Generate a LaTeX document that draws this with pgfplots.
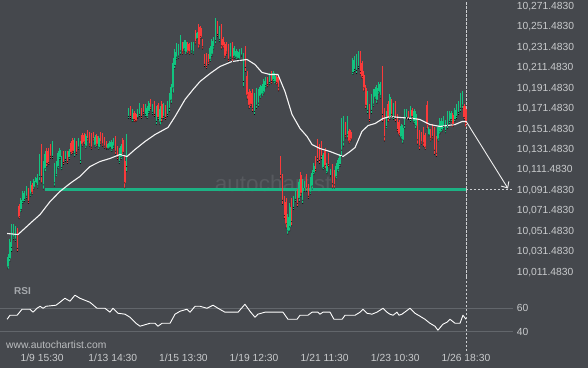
\documentclass[border=0pt]{standalone}
\usepackage{fontspec}
\setmainfont{Liberation Sans}
\usepackage{pgfplots}
\pgfplotsset{compat=1.18}
\usepackage{pgfplotstable}
\usetikzlibrary{arrows.meta}
\definecolor{bg}{RGB}{69,72,77}
\definecolor{cup}{RGB}{18,196,128}
\definecolor{cdn}{RGB}{250,58,58}
\definecolor{sup}{RGB}{28,178,132}
\definecolor{lab}{RGB}{200,202,204}
\definecolor{rsilab}{RGB}{165,168,172}
\definecolor{gridc}{RGB}{98,102,107}
\definecolor{wm}{RGB}{86,89,94}
\definecolor{dashc}{RGB}{205,207,210}

\pgfplotstableread{
i o h l c
0 10016 10028 10014 10026
1 10024 10043 10021 10040
2 10035 10058 10031 10054
3 10045 10058 10043 10056
4 10043 10056 10041 10054
7 10072 10083 10070 10081
8 10080 10090 10078 10088
9 10082 10090 10080 10088
10 10085 10095 10083 10093
12 10087 10100 10085 10098
14 10094 10102 10092 10100
15 10098 10104 10097 10103
16 10095 10107 10093 10105
17 10104 10126 10100 10122
19 10096 10119 10092 10115
20 10112 10129 10109 10126
24 10124 10139 10122 10137
25 10098 10117 10095 10114
26 10106 10119 10104 10117
27 10114 10129 10112 10127
28 10123 10132 10121 10130
29 10113 10124 10111 10122
31 10121 10129 10119 10127
33 10123 10131 10121 10129
36 10127 10142 10124 10139
38 10133 10142 10131 10140
39 10120 10139 10117 10136
42 10134 10146 10132 10144
47 10135 10145 10133 10143
49 10133 10144 10131 10142
54 10132 10137 10131 10136
55 10133 10139 10132 10138
56 10131 10140 10129 10138
57 10134 10142 10132 10140
60 10119 10132 10117 10130
61 10123 10136 10121 10134
64 10114 10146 10109 10141
65 10163 10171 10161 10169
67 10160 10170 10158 10168
70 10162 10170 10161 10168
71 10165 10176 10163 10174
74 10165 10175 10163 10173
75 10163 10173 10161 10171
76 10168 10178 10166 10176
78 10167 10175 10165 10173
80 10158 10173 10155 10170
82 10158 10173 10155 10170
84 10163 10176 10161 10174
86 10165 10178 10163 10176
87 10171 10186 10168 10183
88 10179 10195 10176 10192
89 10191 10220 10186 10215
90 10213 10229 10210 10226
91 10221 10235 10219 10233
92 10222 10234 10220 10232
93 10227 10243 10224 10240
95 10229 10238 10227 10236
96 10226 10238 10224 10236
99 10227 10236 10225 10234
100 10226 10236 10224 10234
102 10239 10246 10238 10245
109 10219 10232 10217 10230
110 10224 10239 10222 10237
111 10231 10241 10229 10239
112 10237 10259 10234 10256
114 10238 10251 10236 10249
120 10221 10235 10219 10233
122 10222 10232 10220 10230
123 10221 10229 10219 10227
124 10220 10227 10219 10226
125 10219 10229 10217 10227
126 10223 10230 10222 10229
127 10197 10225 10192 10220
133 10168 10186 10165 10183
134 10174 10191 10171 10188
135 10176 10190 10173 10187
136 10183 10194 10181 10192
137 10185 10195 10183 10193
138 10187 10200 10185 10198
139 10193 10202 10191 10200
141 10196 10205 10194 10203
143 10199 10207 10197 10205
144 10197 10205 10195 10203
151 10051 10068 10048 10065
152 10055 10078 10051 10074
154 10074 10085 10072 10083
155 10082 10090 10080 10088
157 10083 10102 10080 10099
159 10081 10102 10078 10099
160 10092 10100 10090 10098
163 10089 10104 10087 10102
164 10095 10111 10092 10108
165 10108 10117 10106 10115
170 10113 10127 10111 10125
172 10109 10117 10107 10115
174 10105 10112 10104 10111
177 10104 10117 10102 10115
178 10111 10122 10109 10120
179 10116 10126 10114 10124
180 10130 10161 10124 10155
181 10138 10163 10134 10159
183 10145 10163 10142 10160
186 10206 10220 10204 10218
187 10209 10222 10207 10220
188 10208 10224 10205 10221
189 10212 10227 10210 10225
194 10169 10188 10166 10185
196 10169 10185 10166 10182
197 10175 10190 10173 10188
198 10182 10192 10180 10190
199 10179 10194 10176 10191
200 10187 10197 10185 10195
201 10183 10197 10181 10195
204 10153 10168 10151 10166
206 10163 10185 10160 10182
208 10162 10176 10160 10174
212 10143 10156 10141 10154
213 10140 10155 10137 10152
214 10154 10170 10151 10167
215 10162 10170 10161 10169
217 10160 10173 10158 10171
219 10158 10170 10156 10168
220 10154 10168 10151 10165
227 10145 10153 10144 10151
232 10141 10155 10139 10153
233 10148 10161 10146 10159
234 10150 10161 10148 10159
235 10153 10163 10151 10161
236 10149 10160 10147 10158
237 10154 10168 10151 10165
238 10158 10168 10156 10166
239 10160 10168 10158 10166
241 10160 10171 10158 10169
242 10163 10175 10161 10173
243 10167 10178 10165 10176
244 10171 10186 10168 10183
245 10174 10188 10171 10185
}\upc

\pgfplotstableread{
i o h l c
5 10051 10054 10031 10034
6 10075 10077 10063 10065
11 10091 10093 10078 10080
13 10096 10098 10087 10089
18 10131 10136 10098 10104
21 10129 10132 10114 10117
22 10130 10132 10116 10118
23 10134 10136 10122 10124
30 10127 10129 10116 10118
32 10127 10129 10117 10119
34 10137 10139 10126 10128
35 10140 10142 10127 10129
37 10137 10139 10126 10128
40 10145 10147 10134 10136
41 10145 10147 10136 10138
43 10148 10150 10139 10141
44 10146 10148 10134 10136
45 10145 10147 10131 10133
46 10146 10148 10139 10141
48 10144 10146 10134 10136
50 10146 10148 10136 10138
51 10145 10147 10134 10136
52 10141 10143 10132 10134
53 10138 10139 10131 10132
58 10141 10144 10126 10129
59 10132 10134 10121 10123
62 10140 10142 10126 10128
63 10119 10124 10093 10098
66 10171 10173 10161 10163
68 10166 10168 10158 10160
69 10165 10166 10158 10159
72 10169 10171 10161 10163
73 10173 10175 10165 10167
77 10178 10180 10170 10172
79 10176 10178 10163 10165
81 10174 10176 10160 10162
83 10175 10178 10158 10161
85 10172 10174 10160 10162
94 10234 10236 10224 10226
97 10234 10236 10225 10227
98 10233 10235 10224 10226
101 10246 10248 10234 10236
103 10250 10253 10230 10233
104 10249 10251 10239 10241
105 10237 10239 10229 10231
106 10222 10224 10212 10214
107 10223 10225 10210 10212
108 10222 10224 10214 10216
113 10254 10256 10241 10243
115 10250 10253 10229 10232
116 10239 10241 10230 10232
117 10234 10236 10220 10222
118 10234 10236 10224 10226
119 10232 10234 10217 10219
121 10233 10236 10217 10220
128 10228 10232 10207 10211
129 10203 10207 10180 10184
130 10187 10190 10171 10174
131 10186 10188 10173 10175
132 10187 10190 10168 10171
140 10200 10202 10192 10194
142 10205 10207 10195 10197
145 10202 10204 10194 10196
146 10201 10204 10188 10191
147 10121 10124 10102 10105
148 10103 10107 10077 10081
149 10082 10085 10063 10066
150 10079 10083 10054 10058
153 10079 10083 10056 10060
156 10090 10092 10075 10078
158 10106 10109 10085 10088
161 10105 10107 10090 10093
162 10095 10097 10083 10085
166 10122 10124 10109 10111
167 10138 10141 10119 10122
168 10133 10136 10117 10120
169 10136 10139 10121 10124
171 10129 10132 10112 10115
173 10125 10127 10114 10116
175 10112 10116 10093 10097
176 10108 10111 10093 10096
182 10156 10158 10142 10144
184 10149 10151 10137 10139
185 10148 10150 10139 10141
190 10224 10227 10204 10207
191 10215 10217 10200 10202
192 10204 10207 10188 10191
193 10191 10194 10171 10174
195 10173 10175 10158 10160
202 10205 10212 10158 10165
203 10167 10171 10139 10143
205 10175 10178 10158 10161
207 10178 10180 10163 10165
209 10175 10178 10158 10161
210 10163 10165 10148 10150
211 10158 10160 10144 10146
216 10167 10168 10160 10161
218 10169 10171 10161 10163
221 10157 10161 10136 10140
222 10147 10150 10131 10134
223 10146 10148 10136 10138
224 10150 10153 10134 10137
225 10145 10147 10131 10133
226 10174 10178 10151 10155
228 10149 10151 10139 10141
229 10154 10156 10141 10143
230 10149 10153 10126 10130
231 10141 10144 10124 10127
240 10164 10166 10153 10155
246 10173 10175 10160 10162
247 10170 10173 10153 10156
}\dnc

\pgfplotstableread{
x y
-0.5 10048.5
5.4 10047.5
11.9 10058.3
17.3 10067.1
22.7 10079.8
28.0 10089.6
33.4 10097.4
38.8 10104.3
44.2 10114.0
49.6 10118.9
55.0 10121.9
60.4 10125.8
64.2 10123.8
68.5 10130.7
73.9 10138.5
79.3 10145.3
86.3 10152.2
90.1 10162.9
95.5 10179.6
99.8 10189.3
103.6 10197.2
109.0 10205.0
114.3 10211.8
120.8 10216.7
128.9 10218.7
133.2 10213.8
137.0 10206.0
141.3 10204.0
145.6 10204.0
149.4 10187.4
153.2 10164.9
157.5 10151.2
161.3 10143.4
164.0 10135.5
168.3 10131.6
173.7 10128.7
180.7 10123.8
184.5 10128.7
187.2 10132.6
190.9 10148.3
194.2 10154.1
198.0 10156.1
202.3 10161.0
206.0 10162.9
211.4 10162.0
218.4 10161.0
222.2 10160.0
227.6 10155.1
233.0 10153.2
241.1 10155.1
244.9 10158.0
247 10158.0
}\ma

\pgfplotstableread{
x y
-0.5 50.4
1.1 53.8
4.9 53.8
7.6 58.9
11.9 58.9
13.5 56.4
15.6 59.7
17.3 61.4
18.9 59.7
20.5 61.4
25.9 62.3
28.0 64.8
30.7 68.2
33.4 65.7
36.1 70.8
38.8 68.2
41.5 66.5
44.2 64.8
48.0 59.7
52.3 59.7
55.0 56.4
56.6 59.7
59.3 55.5
63.1 54.7
65.8 52.1
69.0 47.0
71.2 44.5
76.6 47.0
79.3 47.0
80.9 44.5
83.1 47.0
87.4 47.0
90.1 54.7
92.8 57.2
96.5 58.9
98.2 56.4
100.9 61.4
103.6 61.4
107.3 59.7
110.6 62.3
113.3 59.7
117.0 56.4
124.1 56.4
127.8 63.1
130.5 57.2
133.2 52.1
134.8 54.7
138.6 56.4
148.3 56.4
151.0 50.4
155.9 50.4
157.5 53.8
161.8 53.8
164.0 56.4
167.2 56.4
168.3 54.7
169.9 56.4
173.7 56.4
175.8 50.4
180.2 50.4
181.8 53.8
187.2 53.8
189.9 56.4
191.5 58.9
193.6 55.5
196.3 54.7
199.0 56.4
202.3 59.7
204.4 56.4
206.0 54.7
207.7 53.8
209.8 56.4
210.9 53.8
212.5 54.7
216.8 59.7
219.5 55.5
222.2 53.0
224.9 50.4
227.6 47.0
230.3 44.5
231.9 41.1
234.6 46.2
236.8 47.9
238.4 50.4
241.1 47.0
243.8 47.0
245.4 53.8
247 50.4
}\rsi

\pgfplotsset{
  candle/.style n args={2}{only marks, mark=*, mark size=0.2pt,
    mark options={draw=none, fill=none},
    error bars/.cd, y dir=plus, y explicit, error mark=none,
    error bar style={line width=#2, draw=#1, line cap=butt}},
  labfont/.style={font=\fontsize{10.3}{12}\selectfont, text=lab},
  panel/.style={scale only axis, width=513pt, xmin=-4.32, xmax=272.39,
    axis line style={draw=none}, major tick length=0pt},
}

\begin{document}
\begin{tikzpicture}[x=1pt,y=1pt]
\fill[bg] (0,0) rectangle (588,368);

\begin{axis}[panel, at={(0pt,91.5pt)}, anchor=south west, height=275pt,
  ymin=10006.45, ymax=10275.4, xtick=\empty,
  ytick={10011.483,10031.483,10051.483,10071.483,10091.483,10111.483,10131.483,10151.483,10171.483,10191.483,10211.483,10231.483,10251.483,10271.483},
  yticklabels={{10,011.4830},{10,031.4830},{10,051.4830},{10,071.4830},{10,091.4830},{10,111.4830},{10,131.4830},{10,151.4830},{10,171.4830},{10,191.4830},{10,211.4830},{10,231.4830},{10,251.4830},{10,271.4830}},
  yticklabel pos=right,
  yticklabel style={labfont, anchor=base west, inner sep=0pt, xshift=3.6pt, yshift=-3.8pt},
  clip=false]
\node[text=wm, anchor=base, font=\fontsize{22.5}{24}\selectfont] at (axis cs:143,10089.6) {autochartist};
\addplot[sup, line width=2.4pt] coordinates {(20,10091.483) (247,10091.483)};
\addplot[dashc, line width=0.6pt, dash pattern=on 2.5pt off 1.5pt] coordinates {(247,10091.483) (272.39,10091.483)};
\addplot[dashc, line width=0.6pt, dash pattern=on 2.5pt off 1.5pt] coordinates {(247,10006.45) (247,10275.4)};
\addplot[candle={cup}{1.0pt}] table[x=i, y=l, y error expr=\thisrow{h}-\thisrow{l}] {\upc};
\addplot[candle={cup}{1.4pt}] table[x=i, y=o, y error expr=\thisrow{c}-\thisrow{o}] {\upc};
\addplot[candle={cdn}{1.0pt}] table[x=i, y=l, y error expr=\thisrow{h}-\thisrow{l}] {\dnc};
\addplot[candle={cdn}{1.4pt}] table[x=i, y=c, y error expr=\thisrow{o}-\thisrow{c}] {\dnc};
\addplot[white!92!gray, line width=1.1pt, line join=round] table[x=x, y=y] {\ma};
\addplot[white!88!gray, line width=0.9pt, -{Straight Barb[length=5pt, width=9pt]}] coordinates {(247,10158.5) (269.7,10092.5)};
\end{axis}

\begin{axis}[panel, at={(0pt,16.8pt)}, anchor=south west, height=75pt,
  ymin=23.3, ymax=86.9, ytick={40,60}, yticklabels={40,60},
  ymajorgrids, grid style={gridc, line width=0.8pt},
  yticklabel pos=right,
  yticklabel style={labfont, anchor=base west, inner sep=0pt, xshift=3.6pt, yshift=-3.8pt},
  xtick={18.4,56.5,94.6,132.7,170.8,208.9,247},
  xticklabels={1/9 15:30,1/13 14:30,1/15 13:30,1/19 12:30,1/21 11:30,1/23 10:30,1/26 18:30},
  xticklabel style={labfont, anchor=base, inner sep=0pt, yshift=-10.7pt},
  clip=false]
\addplot[dashc, line width=0.6pt, dash pattern=on 2.5pt off 1.5pt] coordinates {(247,23.3) (247,86.9)};
\addplot[white, line width=0.9pt, line join=round] table[x=x, y=y] {\rsi};
\end{axis}

\node[anchor=base west, inner sep=0pt, text=rsilab, font=\bfseries\fontsize{10}{12}\selectfont] at (14,73.5) {RSI};
\node[anchor=base west, inner sep=0pt, text=lab!90!bg, font=\fontsize{10.3}{12}\selectfont] at (6,19.7) {www.autochartist.com};
\pgfresetboundingbox
\path[use as bounding box] (0,0) rectangle (588,368);
\end{tikzpicture}
\end{document}
